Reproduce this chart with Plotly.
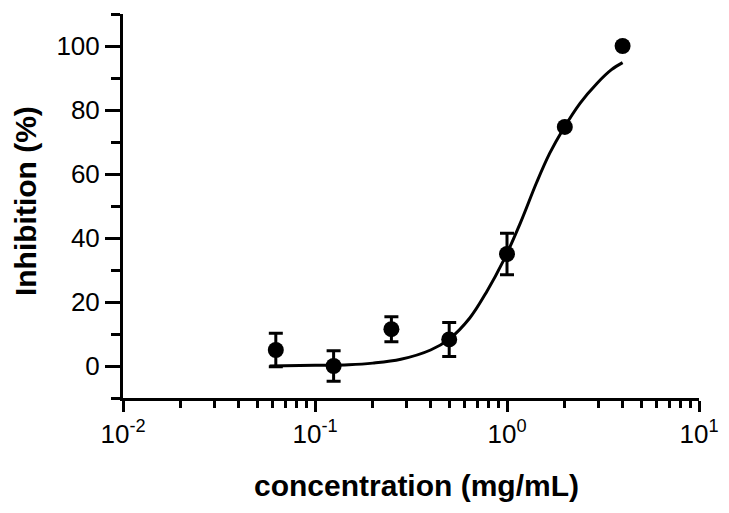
import plotly.graph_objects as go

# Measured data (concentration in mg/mL, inhibition %)
conc = [0.0625, 0.125, 0.25, 0.5, 1.0, 2.0, 4.0]
inhibition = [5.0, 0.0, 11.5, 8.3, 35.0, 74.7, 100.0]
inhibition_err = [5.2, 4.8, 3.9, 5.3, 6.5, 0.0, 0.0]

# Fitted curve
curve_x = [0.058, 0.1, 0.15, 0.2, 0.28, 0.4, 0.5, 0.64, 0.78, 0.96, 1.17,
           1.43, 1.67, 1.96, 2.4, 2.94, 3.5, 4.0]
curve_y = [0.0, 0.2, 0.4, 0.9, 2.1, 5.0, 8.4, 15.0, 23.0, 33.0, 44.5,
           57.5, 66.5, 74.0, 82.1, 88.3, 92.6, 94.8]

x_tickvals = [0.01, 0.1, 1, 10]
x_ticktext = ["10<sup>-2</sup>", "10<sup>-1</sup>", "10<sup>0</sup>", "10<sup>1</sup>"]
x_minorvals = [m * d for d in [0.01, 0.1, 1] for m in range(2, 10)]
y_tickvals = [0, 20, 40, 60, 80, 100]
y_minorvals = [-10, 10, 30, 50, 70, 90, 110]
x_title = "concentration (mg/mL)"
y_title = "Inhibition (%)"

FONT = "Liberation Sans, Arial, sans-serif"

fig = go.Figure()
fig.add_trace(go.Scatter(
    x=curve_x, y=curve_y, mode="lines",
    line=dict(color="black", width=3, shape="spline", smoothing=1.0),
    showlegend=False, hoverinfo="skip",
))
fig.add_trace(go.Scatter(
    x=conc, y=inhibition, mode="markers",
    marker=dict(color="black", size=16),
    error_y=dict(type="data", array=inhibition_err, visible=True,
                 color="black", thickness=3, width=7),
    showlegend=False,
))

fig.update_layout(
    width=729, height=513,
    margin=dict(l=115, r=38, t=6, b=123),
    paper_bgcolor="white", plot_bgcolor="white",
    font=dict(family=FONT, color="black", size=26),
    annotations=[
        dict(text=x_title, xref="paper", yref="paper", x=0.5095, y=-0.229,
             xanchor="center", yanchor="middle", showarrow=False,
             font=dict(size=30, family=FONT, weight="bold", color="black")),
        dict(text=y_title, xref="paper", yref="paper", x=-0.170, y=0.513,
             xanchor="center", yanchor="middle", showarrow=False, textangle=-90,
             font=dict(size=30, family=FONT, weight="bold", color="black")),
    ],
)
fig.update_xaxes(
    type="log", range=[-2, 1], automargin=False,
    tickmode="array", tickvals=x_tickvals, ticktext=x_ticktext,
    ticks="outside", ticklen=11, tickwidth=3, tickcolor="black",
    minor=dict(tickmode="array", tickvals=x_minorvals, ticks="outside",
               ticklen=7, tickwidth=3, tickcolor="black", showgrid=False),
    showline=True, linewidth=3, linecolor="black",
    showgrid=False, zeroline=False,
    tickfont=dict(size=26, family=FONT),
)
fig.update_yaxes(
    range=[-10, 110], automargin=False,
    tickmode="array", tickvals=y_tickvals,
    ticks="outside", ticklen=15, tickwidth=3, tickcolor="black",
    minor=dict(tickmode="array", tickvals=y_minorvals, ticks="outside",
               ticklen=9, tickwidth=3, tickcolor="black", showgrid=False),
    showline=True, linewidth=3, linecolor="black",
    showgrid=False, zeroline=False,
    tickfont=dict(size=26, family=FONT),
)

fig.write_html("out.html")
